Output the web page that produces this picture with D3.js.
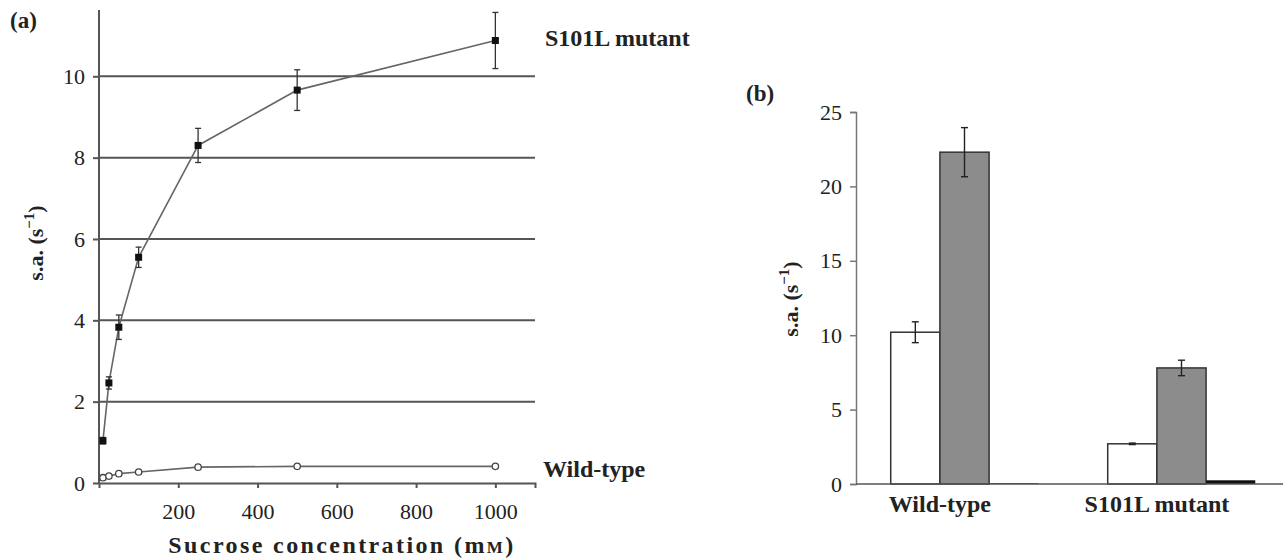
<!DOCTYPE html>
<html lang="en">
<head>
<meta charset="UTF-8">
<title>Sucrose activity</title>
<script src="https://d3js.org/d3.v7.min.js"></script>
<style>
    body { margin: 0; background: #fff; }
    svg { display: block; font-family: "Liberation Serif", "Times New Roman", serif; }
    .lbl { font-weight: bold; fill: #222; }
</style>
</head>
<body>
<svg width="1283" height="560"></svg>
<script>
// panel (a): specific activity vs sucrose concentration
const sucrose = [10, 25, 50, 100, 250, 500, 1000];
const mutantSA = [1.04, 2.46, 3.83, 5.55, 8.3, 9.66, 10.88];
const mutantErr = [0.08, 0.15, 0.3, 0.25, 0.42, 0.5, 0.69];
const wildSA = [0.13, 0.17, 0.23, 0.27, 0.39, 0.41, 0.41];
const xTicksA = [200, 400, 600, 800, 1000];
const yTicksA = [0, 2, 4, 6, 8, 10];

// panel (b): bars per strain
const strains = ["Wild-type", "S101L mutant"];
const barSeries = ["open", "grey", "black"];
const openSA = [10.2, 2.7];
const openErr = [0.7, 0.05];
const greySA = [22.3, 7.8];
const greyErr = [1.65, 0.52];
const blackSA = [0.05, 0.25];
const yTicksB = [0, 5, 10, 15, 20, 25];

const serif = "'Liberation Serif', 'Times New Roman', serif";
const svg = d3.select("svg");

function styleTicks(ax) {
    ax.attr("font-family", serif).attr("font-size", 22);
    ax.selectAll(".tick text").style("font-family", serif).attr("fill", "#222");
}

// ---------- panel (a) ----------
const xA = d3.scaleLinear().domain([0, 1100]).range([99, 535]);
const yA = d3.scaleLinear().domain([0, 11.63]).range([483, 10]);

const gA = svg.append("g");

// gridlines
gA.selectAll(".grid").data(yTicksA.filter(d => d > 0)).enter().append("line")
    .attr("x1", xA(0)).attr("x2", xA(1100))
    .attr("y1", d => yA(d)).attr("y2", d => yA(d))
    .attr("stroke", "#555").attr("stroke-width", 2);

const yAxisA = gA.append("g").attr("transform", `translate(${xA(0)},0)`)
    .call(d3.axisLeft(yA).tickValues(yTicksA).tickSize(6).tickPadding(8));
const xAxisA = gA.append("g").attr("transform", `translate(0,${yA(0)})`)
    .call(d3.axisBottom(xA).tickValues(xTicksA).tickFormat(d3.format("d"))
        .tickSize(5).tickPadding(15));
[yAxisA, xAxisA].forEach(ax => {
    styleTicks(ax);
    ax.select(".domain").attr("stroke", "#555").attr("stroke-width", 2);
    ax.selectAll(".tick line").attr("stroke", "#555").attr("stroke-width", 2);
});
yAxisA.select(".domain").attr("d", `M0,${yA(11.63)}V${yA(0)}`);

const line = d3.line().x(d => xA(d[0])).y(d => yA(d[1]));
const mutPts = sucrose.map((s, i) => [s, mutantSA[i], mutantErr[i]]);
const wildPts = sucrose.map((s, i) => [s, wildSA[i]]);

gA.append("path").datum(mutPts).attr("d", line)
    .attr("fill", "none").attr("stroke", "#666").attr("stroke-width", 1.6);
gA.append("path").datum(wildPts).attr("d", line)
    .attr("fill", "none").attr("stroke", "#666").attr("stroke-width", 1.6);

// error bars
const eb = gA.selectAll(".eb").data(mutPts).enter().append("g");
eb.append("line").attr("x1", d => xA(d[0])).attr("x2", d => xA(d[0]))
    .attr("y1", d => yA(d[1] - d[2])).attr("y2", d => yA(d[1] + d[2]));
eb.append("line").attr("x1", d => xA(d[0]) - 3).attr("x2", d => xA(d[0]) + 3)
    .attr("y1", d => yA(d[1] + d[2])).attr("y2", d => yA(d[1] + d[2]));
eb.append("line").attr("x1", d => xA(d[0]) - 3).attr("x2", d => xA(d[0]) + 3)
    .attr("y1", d => yA(d[1] - d[2])).attr("y2", d => yA(d[1] - d[2]));
eb.selectAll("line").attr("stroke", "#333").attr("stroke-width", 1.3);

gA.selectAll(".sq").data(mutPts).enter().append("rect")
    .attr("x", d => xA(d[0]) - 3.5).attr("y", d => yA(d[1]) - 3.5)
    .attr("width", 7).attr("height", 7).attr("fill", "#111");
gA.selectAll(".ci").data(wildPts).enter().append("circle")
    .attr("cx", d => xA(d[0])).attr("cy", d => yA(d[1])).attr("r", 3.2)
    .attr("fill", "#fff").attr("stroke", "#444").attr("stroke-width", 1.3);

svg.append("text").attr("class", "lbl").attr("x", 10).attr("y", 28)
    .attr("font-size", 23).text("(a)");
svg.append("text").attr("class", "lbl").attr("x", 545).attr("y", 46)
    .attr("font-size", 24).text("S101L mutant");
svg.append("text").attr("class", "lbl").attr("x", 543).attr("y", 477)
    .attr("font-size", 24).text("Wild-type");

const xt = svg.append("text").attr("class", "lbl").attr("x", 342).attr("y", 553)
    .attr("text-anchor", "middle").attr("font-size", 24).attr("letter-spacing", 2.4);
xt.append("tspan").text("Sucrose concentration (m");
xt.append("tspan").attr("font-size", 17).text("M");
xt.append("tspan").text(")");

function yLabel(x, y) {
    const t = svg.append("text").attr("class", "lbl")
        .attr("transform", `translate(${x},${y}) rotate(-90)`)
        .attr("text-anchor", "middle").attr("font-size", 22);
    t.append("tspan").text("s.a. (s");
    t.append("tspan").attr("dy", -9).attr("font-size", 15).text("\u22121");
    t.append("tspan").attr("dy", 9).text(")");
}
yLabel(43, 243);

// ---------- panel (b) ----------
const yB = d3.scaleLinear().domain([0, 25]).range([484, 112]);
const x0 = d3.scaleBand().domain(strains).range([856, 1290])
    .paddingInner(0.32).paddingOuter(0.16);
const x1 = d3.scaleBand().domain(barSeries).range([0, x0.bandwidth()]);
const fills = { open: "#fff", grey: "#8c8c8c", black: "#111" };

const barData = strains.map((s, i) => [
    { strain: s, key: "open", v: openSA[i], e: openErr[i] },
    { strain: s, key: "grey", v: greySA[i], e: greyErr[i] },
    { strain: s, key: "black", v: blackSA[i], e: 0 }
]);

const gB = svg.append("g");
const grp = gB.selectAll(".grp").data(barData).enter().append("g")
    .attr("transform", (d, i) => `translate(${x0(strains[i])},0)`);
grp.selectAll("rect").data(d => d).enter().append("rect")
    .attr("x", d => x1(d.key)).attr("width", x1.bandwidth())
    .attr("y", d => yB(d.v)).attr("height", d => yB(0) - yB(d.v))
    .attr("fill", d => fills[d.key])
    .attr("stroke", d => d.key === "black" ? "none" : "#333").attr("stroke-width", 1.5);

const ebB = grp.selectAll(".err").data(d => d.filter(b => b.e > 0)).enter().append("g")
    .attr("stroke", "#222").attr("stroke-width", 1.4);
const cx = d => x1(d.key) + x1.bandwidth() / 2;
ebB.append("line").attr("x1", cx).attr("x2", cx)
    .attr("y1", d => yB(d.v - d.e)).attr("y2", d => yB(d.v + d.e));
ebB.append("line").attr("x1", d => cx(d) - 3.5).attr("x2", d => cx(d) + 3.5)
    .attr("y1", d => yB(d.v + d.e)).attr("y2", d => yB(d.v + d.e));
ebB.append("line").attr("x1", d => cx(d) - 3.5).attr("x2", d => cx(d) + 3.5)
    .attr("y1", d => yB(d.v - d.e)).attr("y2", d => yB(d.v - d.e));

const yAxisB = gB.append("g").attr("transform", "translate(856,0)")
    .call(d3.axisLeft(yB).tickValues(yTicksB).tickSize(6).tickPadding(8));
styleTicks(yAxisB);
yAxisB.select(".domain").attr("stroke", "#777").attr("stroke-width", 1.5);
yAxisB.selectAll(".tick line").attr("stroke", "#777").attr("stroke-width", 1.5);

gB.append("line").attr("x1", 856).attr("x2", 1283)
    .attr("y1", yB(0)).attr("y2", yB(0)).attr("stroke", "#555").attr("stroke-width", 1.5);

// category labels sit at the open/grey boundary
gB.selectAll(".cat").data(strains).enter().append("text").attr("class", "lbl")
    .attr("x", d => x0(d) + x1("grey")).attr("y", 512)
    .attr("text-anchor", "middle").attr("font-size", 24).text(d => d);

svg.append("text").attr("class", "lbl").attr("x", 746).attr("y", 101)
    .attr("font-size", 23).text("(b)");
yLabel(798, 299);
</script>
</body>
</html>
